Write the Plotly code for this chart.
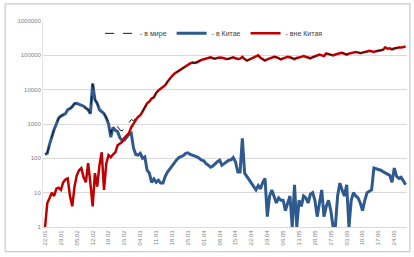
import pandas as pd
import plotly.graph_objects as go

dates = [d.strftime("%d.%m") for d in pd.date_range("2020-01-22", periods=160, freq="D")]

china = [130, 140, 260, 450, 690, 1000, 1480, 1700, 1800, 2000,
         2600, 2800, 3200, 3900, 4000, 3700, 3600, 3300, 2900, 2600,
         2000, 15000, 5100, 4000, 2600, 2200, 2000, 1500, 1000, 410,
         800, 650, 600, 400, 330, 340, 430, 500, 540, 200,
         130, 125, 140, 100, 110, 45, 37, 20, 25, 20,
         23, 19, 19, 30, 40, 50, 60, 75, 90, 105,
         110, 120, 140, 145, 130, 125, 120, 110, 100, 88,
         85, 70, 63, 55, 60, 72, 80, 88, 63, 70,
         78, 88, 90, 105, 78, 40, 40, 380, 37, 30,
         23, 19, 15, 12, 16, 13, 20, 26, 2, 8,
         12, 8, 5, 7, 6, 6, 3, 5, 8, 1,
         17, 1, 6, 4, 8, 7, 5, 9, 10, 6,
         2, 5, 12, 2, 4, 6, 3, 1, 1, 8,
         19, 12, 8, 17, 1, 6, 10, 8, 7, 5,
         3, 6, 10, 11, 12, 52, 50, 47, 45, 41,
         37, 34, 32, 20, 52, 30, 26, 28, 22, 17]

outside = [1, 5, 7, 10, 8, 13, 14, 12, 20, 24,
           26, 8, 4, 15, 32, 45, 52, 28, 20, 72,
           19, 4, 37, 15, 63, 150, 12, 70, 125, 108,
           130, 150, 240, 270, 300, 390, 460, 540, 800, 1050,
           1300, 1600, 1800, 2300, 3100, 4000, 4500, 5500, 6000, 8000,
           9500, 10900, 12500, 13500, 17000, 21000, 25000, 29000, 32000, 37000,
           41000, 45000, 50000, 55000, 58000, 62000, 60000, 63000, 70000, 74000,
           77000, 80000, 85000, 87000, 82000, 80000, 84000, 87000, 85000, 80000,
           78000, 80000, 84000, 88000, 82000, 78000, 80000, 90000, 78000, 70000,
           75000, 80000, 88000, 95000, 100000, 85000, 75000, 70000, 76000, 80000,
           86000, 90000, 88000, 80000, 76000, 82000, 87000, 90000, 88000, 82000,
           78000, 84000, 85000, 90000, 95000, 92000, 86000, 82000, 88000, 95000,
           100000, 105000, 100000, 95000, 114000, 110000, 104000, 100000, 106000, 112000,
           115000, 118000, 110000, 105000, 112000, 118000, 120000, 125000, 122000, 115000,
           120000, 128000, 130000, 135000, 130000, 125000, 132000, 138000, 140000, 145000,
           170000, 155000, 160000, 150000, 158000, 165000, 170000, 168000, 175000, 180000]

world = [131, 145, 267, 460, 698, 1013, 1494, 1712, 1820, 2024,
         2626, 2808, 3204, 3915, 4032, 3745, 3652, 3328, 2920, 2672,
         2019, 15004, 5137, 4015, 2663, 2350, 2012, 1570, 1125, 518,
         930, 800, 840, 670, 630, 730, 890, 1040, 1340, 1250,
         1430, 1725, 1940, 2400, 3210, 4045, 4537, 5520, 6025, 8020,
         9523, 10919, 12519, 13530, 17040, 21050, 25060, 29075, 32090, 37105,
         41110, 45120, 50140, 55145, 58130, 62125, 60120, 63110, 70100, 74088,
         77085, 80070, 85063, 87055, 82060, 80072, 84080, 87088, 85063, 80070,
         78078, 80088, 84090, 88105, 82078, 78040, 80040, 90380, 78037, 70030,
         75023, 80019, 88015, 95012, 100016, 85013, 75020, 70026, 76002, 80008,
         86012, 90008, 88005, 80007, 76006, 82006, 87003, 90005, 88008, 82001,
         78017, 84001, 85006, 90004, 95008, 92007, 86005, 82009, 88010, 95006,
         100002, 105005, 100012, 95002, 114004, 110006, 104003, 100001, 106001, 112008,
         115019, 118012, 110008, 105017, 112001, 118006, 120010, 125008, 122007, 115005,
         120003, 128006, 130010, 135011, 130012, 125052, 132050, 138047, 140045, 145041,
         170037, 155034, 160032, 150020, 158052, 165030, 170026, 168028, 175022, 180017]

y_ticks = [1, 10, 100, 1000, 10000, 100000, 1000000]
y_tick_labels = ["1", "10", "100", "1000", "10000", "100000", "1000000"]
x_tick_labels = dates[::7]

x = list(range(len(dates)))

fig = go.Figure()
fig.add_trace(go.Scatter(x=x, y=china, mode="lines", name="- в Китае",
                         line=dict(color="#2F5A8F", width=3), legendrank=2))
fig.add_trace(go.Scatter(x=x, y=outside, mode="lines", name="- вне Китая",
                         line=dict(color="#C00000", width=2.5), legendrank=3))
fig.add_trace(go.Scatter(x=x, y=world, mode="lines", name="- в мире",
                         line=dict(color="#1a1a1a", width=1, dash="dash"), legendrank=1))

fig.update_layout(
    width=414, height=257,
    margin=dict(l=43, r=7, t=21, b=30),
    paper_bgcolor="white", plot_bgcolor="white",
    font=dict(family="Liberation Sans, Arial, sans-serif", size=6, color="#595959"),
    showlegend=True,
    legend=dict(orientation="h", x=0.47, xanchor="center", y=0.94, yanchor="middle",
                font=dict(size=7, color="#404040"), bgcolor="rgba(255,255,255,0)",
                itemwidth=30, tracegroupgap=0),
    shapes=[dict(type="rect", xref="paper", yref="paper", x0=-0.104, x1=1.008,
                 y0=-0.12, y1=1.083, line=dict(color="#BFBFBF", width=1))],
)
fig.update_xaxes(range=[-0.9, 159.6], tickmode="array", tickvals=x[::7],
                 ticktext=x_tick_labels, tickangle=-90, showgrid=False,
                 showline=True, linecolor="#D9D9D9", linewidth=1, ticks="",
                 tickfont=dict(size=6, color="#7f7f7f"), zeroline=False)
fig.update_yaxes(type="log", range=[0, 6], tickmode="array", tickvals=y_ticks,
                 ticktext=y_tick_labels, showgrid=True, gridcolor="#D9D9D9",
                 gridwidth=1, showline=True, linecolor="#E6E6E6", ticks="",
                 tickfont=dict(size=6, color="#7f7f7f"), zeroline=False)

fig.write_html("out.html", config={"displayModeBar": False},
               post_script="document.body.style.margin='0';")
